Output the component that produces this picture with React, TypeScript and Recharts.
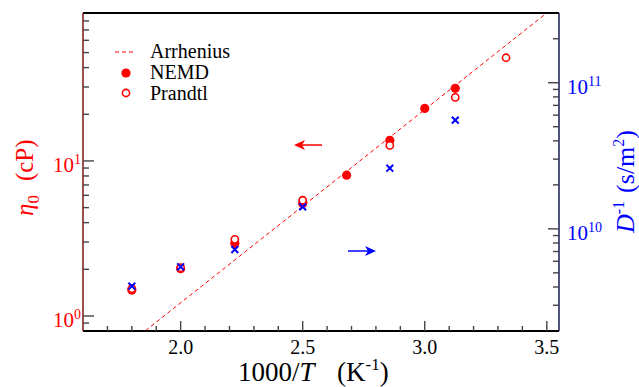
import { ComposedChart, Line, Scatter, XAxis, YAxis } from 'recharts'

const W = 639
const H = 387
const RED = '#ff0000'
const BLUE = '#0000ff'
const SERIF = 'Liberation Serif, Times New Roman, Times, DejaVu Serif, serif'

// 1000/T (K^-1) and eta_0 (cP)
const nemdX = [1.8, 2.0, 2.222, 2.5, 2.68, 2.857, 3.0, 3.125]
const nemdEta = [1.47, 2.02, 2.94, 5.32, 8.1, 13.6, 21.8, 29.4]
const prandtlX = [1.8, 2.0, 2.222, 2.5, 2.857, 3.125, 3.333]
const prandtlEta = [1.5, 2.05, 3.12, 5.58, 12.6, 25.7, 46.3]
// D^-1 (s/m^2), right axis
const diffX = [1.8, 2.0, 2.222, 2.5, 2.857, 3.125]
const diffInv = [4.05e9, 5.5e9, 7.22e9, 1.415e10, 2.6e10, 5.55e10]
// Arrhenius fit, visible end points
const arrheniusX = [1.856, 3.497]
const arrheniusEta = [0.804, 89.3]

const xTicks = [1.7, 1.8, 1.9, 2.0, 2.1, 2.2, 2.3, 2.4, 2.5, 2.6, 2.7, 2.8, 2.9, 3.0, 3.1, 3.2, 3.3, 3.4, 3.5]
const xMajor = [2.0, 2.5, 3.0, 3.5]
const etaTicks = [0.9, 1, 2, 3, 4, 5, 6, 7, 8, 9, 10, 20, 30, 40, 50, 60, 70, 80]
const etaMajor = [1, 10]
const dTicks = [3e9, 4e9, 5e9, 6e9, 7e9, 8e9, 9e9, 1e10, 2e10, 3e10, 4e10, 5e10, 6e10, 7e10, 8e10, 9e10, 1e11, 2e11]
const dMajor = [1e10, 1e11]

const toPoints = (xs: number[], ys: number[]) => xs.map((x, i) => ({ x, y: ys[i] }))
const nemdData = toPoints(nemdX, nemdEta)
const prandtlData = toPoints(prandtlX, prandtlEta)
const diffData = toPoints(diffX, diffInv)
const arrheniusData = toPoints(arrheniusX, arrheniusEta)

const isMajor = (v: number, list: number[]) => list.some((m) => Math.abs(m - v) / m < 1e-6)
const TICK = '#444'
const font = { fontFamily: SERIF }

const BottomTick = (p: any) => {
  const { x, y, payload } = p
  const major = isMajor(payload.value, xMajor)
  return (
    <g>
      <line x1={x} x2={x} y1={y} y2={y - (major ? 10 : 5)} stroke={TICK} strokeWidth={1.4} />
      {major && (
        <text x={x} y={y + 22.5} textAnchor="middle" style={font} fontSize={20} fill="#000">
          {payload.value.toFixed(1)}
        </text>
      )}
    </g>
  )
}

const TopTick = (p: any) => {
  const { x, y, payload } = p
  const major = isMajor(payload.value, xMajor)
  return <line x1={x} x2={x} y1={y} y2={y + (major ? 10 : 5)} stroke={TICK} strokeWidth={1.4} />
}

const LeftTick = (p: any) => {
  const { x, y, payload } = p
  const major = isMajor(payload.value, etaMajor)
  return (
    <g>
      <line x1={x} x2={x + (major ? 11 : 6)} y1={y} y2={y} stroke={TICK} strokeWidth={1.4} />
      {major && (
        <text x={x - 2} y={y + 11.5} textAnchor="end" style={font} fontSize={21} fill={RED}>
          10
          <tspan dy={-8} fontSize={14}>{Math.round(Math.log10(payload.value))}</tspan>
        </text>
      )}
    </g>
  )
}

const RightTick = (p: any) => {
  const { x, y, payload } = p
  const major = isMajor(payload.value, dMajor)
  return (
    <g>
      <line x1={x} x2={x - (major ? 11 : 6)} y1={y} y2={y} stroke={TICK} strokeWidth={1.4} />
      {major && (
        <text x={x + 8} y={y + 11} style={font} fontSize={21} fill={BLUE}>
          10
          <tspan dy={-8} fontSize={14}>{Math.round(Math.log10(payload.value))}</tspan>
        </text>
      )}
    </g>
  )
}

const FilledDot = (p: any) => <circle cx={p.cx} cy={p.cy} r={4.6} fill={RED} />
const OpenDot = (p: any) => (
  <circle cx={p.cx} cy={p.cy} r={3.6} fill="#fff" stroke={RED} strokeWidth={1.6} />
)
const Cross = (p: any) => {
  const s = 3.4
  const { cx, cy } = p
  return (
    <path
      d={`M${cx - s},${cy - s}L${cx + s},${cy + s}M${cx - s},${cy + s}L${cx + s},${cy - s}`}
      stroke={BLUE}
      strokeWidth={2}
      fill="none"
    />
  )
}

export default function App() {
  return (
    <div style={{ position: 'absolute', left: 0, top: 0, width: W, height: H, background: '#fff' }}>
      <ComposedChart width={W} height={H} margin={{ top: 0, right: 0, bottom: 0, left: 0 }}>
        <XAxis
          xAxisId="b"
          type="number"
          dataKey="x"
          domain={[1.6, 3.55]}
          allowDataOverflow
          ticks={xTicks}
          interval={0}
          tick={BottomTick}
          tickLine={false}
          tickSize={0}
          tickMargin={0}
          height={56}
          axisLine={{ stroke: '#000', strokeWidth: 2 }}
        />
        <XAxis
          xAxisId="t"
          orientation="top"
          type="number"
          domain={[1.6, 3.55]}
          allowDataOverflow
          ticks={xTicks}
          interval={0}
          tick={TopTick}
          tickLine={false}
          tickSize={0}
          tickMargin={0}
          height={13}
          axisLine={{ stroke: '#000', strokeWidth: 2 }}
        />
        <YAxis
          yAxisId="eta"
          type="number"
          scale="log"
          dataKey="y"
          domain={[0.8, 90]}
          allowDataOverflow
          ticks={etaTicks}
          interval={0}
          tick={LeftTick}
          tickLine={false}
          tickSize={0}
          tickMargin={0}
          width={83}
          axisLine={{ stroke: '#7a1414', strokeWidth: 1.5 }}
        />
        <YAxis
          yAxisId="d"
          orientation="right"
          type="number"
          scale="log"
          dataKey="y"
          domain={[2e9, 3e11]}
          allowDataOverflow
          ticks={dTicks}
          interval={0}
          tick={RightTick}
          tickLine={false}
          tickSize={0}
          tickMargin={0}
          width={80}
          axisLine={{ stroke: '#1a1a55', strokeWidth: 1.5 }}
        />
        <Line
          xAxisId="b"
          yAxisId="eta"
          data={arrheniusData}
          dataKey="y"
          stroke={RED}
          strokeWidth={1}
          strokeDasharray="4 3"
          dot={false}
          activeDot={false}
          isAnimationActive={false}
        />
        <Scatter xAxisId="b" yAxisId="eta" data={nemdData} dataKey="y" shape={FilledDot} isAnimationActive={false} />
        <Scatter xAxisId="b" yAxisId="eta" data={prandtlData} dataKey="y" shape={OpenDot} isAnimationActive={false} />
        <Scatter xAxisId="b" yAxisId="d" data={diffData} dataKey="y" shape={Cross} isAnimationActive={false} />
      </ComposedChart>

      <svg
        width={W}
        height={H}
        style={{ position: 'absolute', left: 0, top: 0, pointerEvents: 'none', fontFamily: SERIF }}
      >
        {/* legend */}
        <line x1={115} x2={136} y1={52} y2={52} stroke={RED} strokeWidth={1} strokeDasharray="4 3" />
        <text x={150} y={58} fontSize={20} fill="#000">Arrhenius</text>
        <circle cx={126} cy={73} r={4.6} fill={RED} />
        <text x={150} y={79} fontSize={20} fill="#000">NEMD</text>
        <circle cx={126} cy={93} r={3.6} fill="#fff" stroke={RED} strokeWidth={1.6} />
        <text x={150} y={100} fontSize={20} fill="#000">Prandtl</text>

        {/* arrows */}
        <line x1={300} x2={322} y1={145} y2={145} stroke={RED} strokeWidth={1.5} />
        <path d="M294,145 L305,140 L302,145 L305,150 Z" fill={RED} />
        <line x1={348} x2={370} y1={251} y2={251} stroke={BLUE} strokeWidth={1.5} />
        <path d="M376,251 L365,246 L368,251 L365,256 Z" fill={BLUE} />

        {/* axis titles */}
        <text transform="translate(33,216) rotate(-90)" fontSize={25} fill={RED}>
          <tspan fontStyle="italic">η</tspan>
          <tspan fontSize={17} dy={6}>0</tspan>
          <tspan dy={-6} dx={14}>(cP)</tspan>
        </text>
        <text transform="translate(634,233) rotate(-90)" fontSize={26} fill={BLUE}>
          <tspan fontStyle="italic">D</tspan>
          <tspan fontSize={16} dy={-10}>-1</tspan>
          <tspan dy={10} dx={8}>(s/m</tspan>
          <tspan fontSize={16} dy={-10}>2</tspan>
          <tspan dy={10}>)</tspan>
        </text>
        <text x={238} y={381} fontSize={27} fill="#000">
          1000/<tspan fontStyle="italic">T</tspan>
        </text>
        <text x={337} y={381} fontSize={27} fill="#000">
          (K<tspan fontSize={17} dy={-11}>-1</tspan>
          <tspan dy={11}>)</tspan>
        </text>
      </svg>
    </div>
  )
}
